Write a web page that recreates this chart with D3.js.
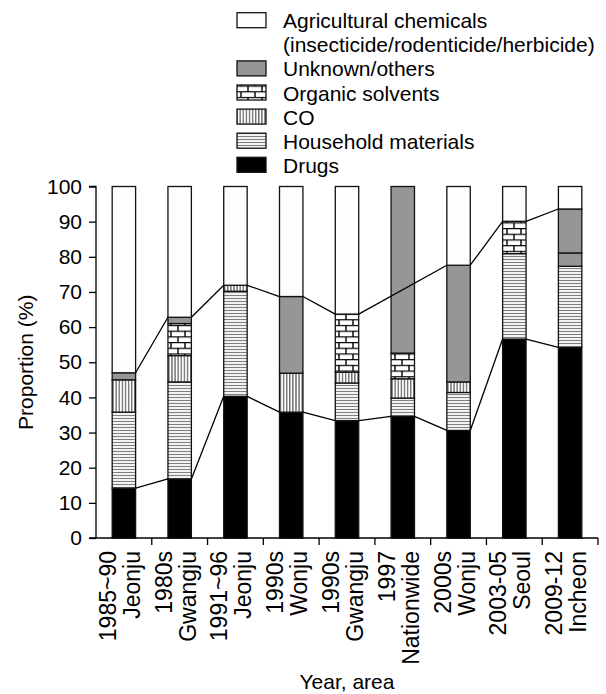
<!DOCTYPE html>
<html><head><meta charset="utf-8">
<script src="https://cdn.jsdelivr.net/npm/d3@7"></script>
<style>
body{margin:0;background:#fff;}
svg{display:block;font-family:"Liberation Sans",Arial,sans-serif;}
</style></head>
<body><svg id="chart" width="606" height="694"></svg>
<script>
// ---- data ----
const yearLabels = ["1985~90","1980s","1991~96","1990s","1990s","1997","2000s","2003-05","2009-12"];
const areaLabels = ["Jeonju","Gwangju","Jeonju","Wonju","Gwangju","Nationwide","Wonju","Seoul","Incheon"];
const drugs     = [14.2, 16.8, 40.3, 35.8, 33.4, 34.6, 30.6, 56.6, 54.2];
const household = [21.6, 27.6, 29.9, 0,    10.7, 5.2,  10.8, 24.3, 23.1];
const co        = [9.2,  7.5,  1.7,  11.1, 3.1,  5.5,  3.0,  0,    0];
const organic   = [0,    9.1,  0,    0,    16.5, 7.3,  0,    9.2,  0];
const unknown   = [2.0,  1.8,  0,    21.8, 0,    47.4, 33.2, 0,    3.8];
const others    = [0,    0,    0,    0,    0,    0,    0,    0,    12.5];
const agric     = [53.0, 37.2, 28.1, 31.3, 36.3, null, 22.4, 9.9,  6.4];
const yTicks    = [0,10,20,30,40,50,60,70,80,90,100];
const legendItems = [
  {key:"agric",   lines:["Agricultural chemicals","(insecticide/rodenticide/herbicide)"]},
  {key:"unknown", lines:["Unknown/others"]},
  {key:"organic", lines:["Organic solvents"]},
  {key:"co",      lines:["CO"]},
  {key:"household", lines:["Household materials"]},
  {key:"drugs",   lines:["Drugs"]}
];

const svg = d3.select("#chart");
const defs = svg.append("defs");

// patterns
const pH = defs.append("pattern").attr("id","pHouse").attr("patternUnits","userSpaceOnUse").attr("width",4).attr("height",3);
pH.append("rect").attr("width",4).attr("height",3).attr("fill","#fff");
pH.append("line").attr("x1",0).attr("x2",4).attr("y1",1.5).attr("y2",1.5).attr("stroke","#808080").attr("stroke-width",1.2);

const pC = defs.append("pattern").attr("id","pCO").attr("patternUnits","userSpaceOnUse").attr("width",3.1).attr("height",4);
pC.append("rect").attr("width",3.1).attr("height",4).attr("fill","#fff");
pC.append("line").attr("x1",1.5).attr("x2",1.5).attr("y1",0).attr("y2",4).attr("stroke","#222").attr("stroke-width",0.9);

const pB = defs.append("pattern").attr("id","pBrick").attr("patternUnits","userSpaceOnUse").attr("width",14).attr("height",11.4);
pB.append("rect").attr("width",14).attr("height",11.4).attr("fill","#fff");
const bp = d3.path();
bp.moveTo(0,0.6); bp.lineTo(14,0.6);
bp.moveTo(0,6.3); bp.lineTo(14,6.3);
bp.moveTo(3,0.6); bp.lineTo(3,6.3);
bp.moveTo(10,6.3); bp.lineTo(10,11.4);
pB.append("path").attr("d",bp.toString()).attr("stroke","#000").attr("stroke-width",1.4).attr("fill","none");

const fills = {
  drugs:"#000", household:"url(#pHouse)", co:"url(#pCO)", organic:"url(#pBrick)",
  unknown:"#969696", others:"#969696", agric:"#fdfdfd"
};

// scales
const x = d3.scaleBand().domain(d3.range(yearLabels.length)).range([96, 598]).paddingInner(0.58).paddingOuter(0.29);
const y = d3.scaleLinear().domain([0,100]).range([538, 186.5]);

// stack
const keys = ["drugs","household","co","organic","unknown","others","agric"];
const series = {drugs, household, co, organic, unknown, others, agric};
const rows = yearLabels.map((_,i)=>{const r={i}; keys.forEach(k=>r[k]=series[k][i]||0); return r;});
const stacked = d3.stack().keys(keys)(rows);

const barsG = svg.append("g");
stacked.forEach(s=>{
  barsG.selectAll(null).data(s.filter(d=>d[1]-d[0]>0)).join("rect")
    .attr("x",d=>x(d.data.i))
    .attr("width",x.bandwidth())
    .attr("y",d=>y(d[1]))
    .attr("height",d=>y(d[0])-y(d[1]))
    .attr("fill",fills[s.key])
    .attr("stroke","#111").attr("stroke-width",1.3);
});

// connecting lines
function connect(vals){
  const pts = vals.map((v,i)=>({v,i})).filter(d=>d.v!=null);
  const segs=[];
  for(let k=0;k<pts.length-1;k++){
    const a=pts[k], b=pts[k+1];
    segs.push([[x(a.i)+x.bandwidth(), y(a.v)],[x(b.i), y(b.v)]]);
  }
  return segs;
}
const lowerVals = drugs;
const upperVals = agric.map((a,i)=> a==null ? null : 100 - a);
const lg = svg.append("g");
[lowerVals, upperVals].forEach(v=>{
  lg.selectAll(null).data(connect(v)).join("path")
    .attr("d",d=>d3.line()(d)).attr("stroke","#000").attr("stroke-width",1.3).attr("fill","none");
});

// y axis
const yAxis = d3.axisLeft(y).tickValues(yTicks).tickSize(7).tickPadding(7);
const ya = svg.append("g").attr("transform","translate(96,0)").call(yAxis);
ya.select(".domain").attr("stroke","#000").attr("stroke-width",1.3).attr("d",`M-7,${y(100)}H0V${y(0)}`);
ya.selectAll(".tick line").attr("stroke","#000").attr("stroke-width",1.3);
ya.selectAll(".tick text").attr("font-size",21).attr("fill","#000").attr("font-family","Liberation Sans, Arial, sans-serif");

// x axis
const xa = svg.append("g");
xa.append("line").attr("x1",89).attr("x2",598).attr("y1",y(0)).attr("y2",y(0)).attr("stroke","#000").attr("stroke-width",1.3);
const bounds = d3.range(1, yearLabels.length+1).map(k=>x.range()[0] + k*x.step());
xa.selectAll(null).data(bounds).join("line")
  .attr("x1",d=>d).attr("x2",d=>d).attr("y1",y(0)).attr("y2",y(0)+7).attr("stroke","#000").attr("stroke-width",1.3);

const xl = svg.append("g").attr("font-size",23).attr("fill","#000");
yearLabels.forEach((lab,i)=>{
  const cx = x(i)+x.bandwidth()/2;
  const t = xl.append("text").attr("text-anchor","end")
    .attr("transform",`translate(${cx},551) rotate(-90)`);
  t.append("tspan").attr("x",0).attr("y",-8).text(lab);
  t.append("tspan").attr("x",0).attr("y",16).text(areaLabels[i]);
});

// axis titles
svg.append("text").attr("transform",`translate(33,${(y(0)+y(100))/2}) rotate(-90)`)
  .attr("text-anchor","middle").attr("font-size",21).text("Proportion (%)");
svg.append("text").attr("x",347).attr("y",689).attr("text-anchor","middle").attr("font-size",21).text("Year, area");

// legend
const leg = svg.append("g");
let row=0;
legendItems.forEach(item=>{
  const top = 12.7 + row*24.1;
  leg.append("rect").attr("x",237).attr("y",top).attr("width",29).attr("height",15)
    .attr("fill",fills[item.key]).attr("stroke","#111").attr("stroke-width",1.3);
  item.lines.forEach((ln,j)=>{
    leg.append("text").attr("x",283).attr("y",top+15.5+j*24.1).attr("font-size",21).text(ln);
  });
  row += item.lines.length;
});
</script></body></html>
